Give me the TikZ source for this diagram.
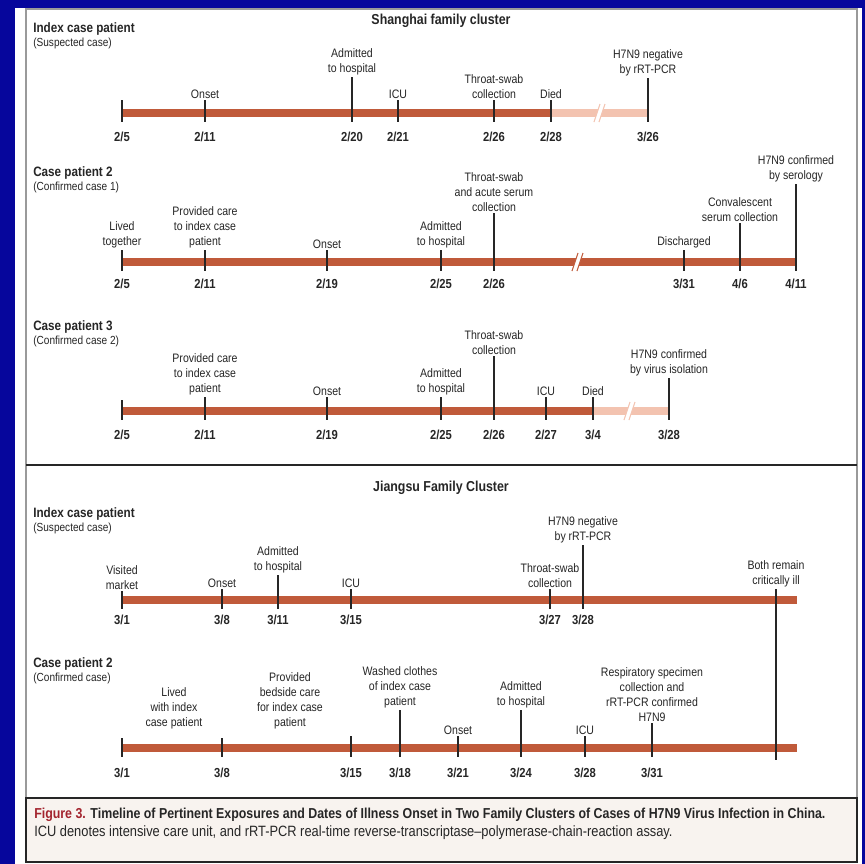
\documentclass[tikz,border=0pt]{standalone}
\usepackage{fontspec}
\setmainfont{Liberation Sans}[FakeStretch=0.86]
\usetikzlibrary{positioning}
\definecolor{bgblue}{HTML}{06069C}
\definecolor{ink}{HTML}{262626}
\definecolor{barmain}{HTML}{C05A3A}
\definecolor{barfade}{HTML}{F3C3B0}
\definecolor{framegray}{HTML}{9A9A9A}
\definecolor{capfill}{HTML}{F8F3EF}
\definecolor{figred}{HTML}{A3242E}
\tikzset{
  every node/.style={font=\fontsize{9.2}{11.2}\selectfont, text=ink},
  evt/.style={align=center, anchor=south, inner sep=1.2pt},
  datelbl/.style={anchor=base, inner sep=0pt, font=\fontsize{9.8}{11}\selectfont\bfseries},
  casehead/.style={anchor=base west, inner sep=0pt, font=\fontsize{10.2}{11}\selectfont\bfseries},
  casesub/.style={anchor=base west, inner sep=0pt, font=\fontsize{8.8}{10}\selectfont},
  clustertitle/.style={anchor=base, inner sep=0pt, font=\fontsize{10.8}{12}\selectfont\bfseries},
  captext/.style={anchor=base west, inner sep=0pt, font=\fontsize{11.2}{12}\selectfont},
  bar/.style={line width=6pt, draw=barmain},
  fadedbar/.style={line width=6pt, draw=barfade},
  tick/.style={line width=0.9pt, draw=ink},
  brk/.pic={
    \fill[white] (-6,9) -- (-1,9) -- (5,-9) -- (0,-9) -- cycle;
    \draw[line width=0.8pt, draw=#1] (-6,9) -- (0,-9) (-1,9) -- (5,-9);
  },
}
\begin{document}
\begin{tikzpicture}[x=0.75pt, y=-0.75pt]
\useasboundingbox (0,0) rectangle (865,864);
% page and frame
\fill[bgblue] (0,0) rectangle (865,864);
\fill[white] (15,8) rectangle (862,864);
\draw[framegray, line width=1.2pt] (26,9) rectangle (857,862);
\draw[ink, line width=1.8pt] (26,465) -- (857,465);
\filldraw[fill=capfill, draw=ink, line width=1.5pt] (26,798) rectangle (857,862);

% Shanghai family cluster
\node[clustertitle] (sh) at (441,24) {Shanghai family cluster};

\node[casehead] (s1h) at (33,32) {Index case patient};
\node[casesub, below=10.5pt of s1h.base west, anchor=base west] (s1s) {(Suspected case)};
\coordinate (s1a) at (122,113);
\coordinate (s1b) at (551,113);
\coordinate (s1c) at (648,113);
\draw[bar] (s1a) -- (s1b);
\draw[fadedbar] (s1b) -- (s1c);
\pic at (600,113) {brk=barfade};
\foreach \x/\t/\d/\txt [count=\i] in {122/100/{2/5}/{}, 205/100/{2/11}/Onset,
    352/77/{2/20}/{Admitted\\to hospital}, 398/100/{2/21}/ICU,
    494/100/{2/26}/{Throat-swab\\collection}, 551/100/{2/28}/Died,
    648/78/{3/26}/{H7N9 negative\\by rRT-PCR}}{
  \node[evt] (s1e\i) at (\x,\t) {\txt};
  \coordinate (s1t\i) at (\x,122);
  \node[datelbl] (s1d\i) at (\x,141) {\d};
  \draw[tick] (s1e\i.south) -- (s1t\i);
}

\node[casehead] (s2h) at (33,176) {Case patient 2};
\node[casesub, below=10.5pt of s2h.base west, anchor=base west] (s2s) {(Confirmed case 1)};
\coordinate (s2a) at (122,262);
\coordinate (s2b) at (796,262);
\draw[bar] (s2a) -- (s2b);
\pic at (578,262) {brk=barmain};
\foreach \x/\t/\d/\txt [count=\i] in {122/250/{2/5}/{Lived\\together},
    205/250/{2/11}/{Provided care\\to index case\\patient}, 327/250/{2/19}/Onset,
    441/250/{2/25}/{Admitted\\to hospital},
    494/213/{2/26}/{Throat-swab\\and acute serum\\collection},
    684/250/{3/31}/Discharged, 740/223/{4/6}/{Convalescent\\serum collection},
    796/184/{4/11}/{H7N9 confirmed\\by serology}}{
  \node[evt] (s2e\i) at (\x,\t) {\txt};
  \coordinate (s2t\i) at (\x,271);
  \node[datelbl] (s2d\i) at (\x,288) {\d};
  \draw[tick] (s2e\i.south) -- (s2t\i);
}

\node[casehead] (s3h) at (33,330) {Case patient 3};
\node[casesub, below=10.5pt of s3h.base west, anchor=base west] (s3s) {(Confirmed case 2)};
\coordinate (s3a) at (122,411);
\coordinate (s3b) at (593,411);
\coordinate (s3c) at (669,411);
\draw[bar] (s3a) -- (s3b);
\draw[fadedbar] (s3b) -- (s3c);
\pic at (630,411) {brk=barfade};
\foreach \x/\t/\d/\txt [count=\i] in {122/400/{2/5}/{},
    205/397/{2/11}/{Provided care\\to index case\\patient}, 327/397/{2/19}/Onset,
    441/397/{2/25}/{Admitted\\to hospital}, 494/356/{2/26}/{Throat-swab\\collection},
    546/397/{2/27}/ICU, 593/397/{3/4}/Died,
    669/378/{3/28}/{H7N9 confirmed\\by virus isolation}}{
  \node[evt] (s3e\i) at (\x,\t) {\txt};
  \coordinate (s3t\i) at (\x,420);
  \node[datelbl] (s3d\i) at (\x,439) {\d};
  \draw[tick] (s3e\i.south) -- (s3t\i);
}

% Jiangsu family cluster
\node[clustertitle] (js) at (441,491) {Jiangsu Family Cluster};

\node[casehead] (j1h) at (33,517) {Index case patient};
\node[casesub, below=10.5pt of j1h.base west, anchor=base west] (j1s) {(Suspected case)};
\coordinate (j1a) at (122,600);
\coordinate (j1b) at (797,600);
\draw[bar] (j1a) -- (j1b);
\foreach \x/\t/\d/\txt [count=\i] in {122/591/{3/1}/{Visited\\market},
    222/589/{3/8}/Onset, 278/575/{3/11}/{Admitted\\to hospital},
    351/589/{3/15}/ICU, 550/589/{3/27}/{Throat-swab\\collection},
    583/545/{3/28}/{H7N9 negative\\by rRT-PCR}}{
  \node[evt] (j1e\i) at (\x,\t) {\txt};
  \coordinate (j1t\i) at (\x,609);
  \node[datelbl] (j1d\i) at (\x,624) {\d};
  \draw[tick] (j1e\i.south) -- (j1t\i);
}

\node[casehead] (j2h) at (33,667) {Case patient 2};
\node[casesub, below=10.5pt of j2h.base west, anchor=base west] (j2s) {(Confirmed case)};
\coordinate (j2a) at (122,748);
\coordinate (j2b) at (797,748);
\draw[bar] (j2a) -- (j2b);
\node[evt] (j2l) at (174,731) {Lived\\with index\\case patient};
\node[evt] (j2p) at (290,731) {Provided\\bedside care\\for index case\\patient};
\foreach \x/\t/\d/\txt [count=\i] in {122/738/{3/1}/{}, 222/738/{3/8}/{},
    351/736/{3/15}/{}, 400/710/{3/18}/{Washed clothes\\of index case\\patient},
    458/736/{3/21}/Onset, 521/710/{3/24}/{Admitted\\to hospital},
    585/736/{3/28}/ICU,
    652/723/{3/31}/{Respiratory specimen\\collection and\\rRT-PCR confirmed\\H7N9}}{
  \node[evt] (j2e\i) at (\x,\t) {\txt};
  \coordinate (j2t\i) at (\x,757);
  \node[datelbl] (j2d\i) at (\x,777) {\d};
  \draw[tick] (j2e\i.south) -- (j2t\i);
}

% shared status of both patients
\node[evt] (both) at (776,589) {Both remain\\critically ill};
\coordinate (bothend) at (776,760);
\draw[tick] (both.south) -- (bothend);

% caption
\node[captext, font=\fontsize{10.8}{12}\selectfont\bfseries] (cap1) at (34,818)
  {\textcolor{figred}{Figure 3.} Timeline of Pertinent Exposures and Dates of Illness Onset in Two Family Clusters of Cases of H7N9 Virus Infection in China.};
\node[captext, below=14pt of cap1.base west, anchor=base west] (cap2)
  {ICU denotes intensive care unit, and rRT-PCR real-time reverse-transcriptase–polymerase-chain-reaction assay.};
\end{tikzpicture}
\end{document}
